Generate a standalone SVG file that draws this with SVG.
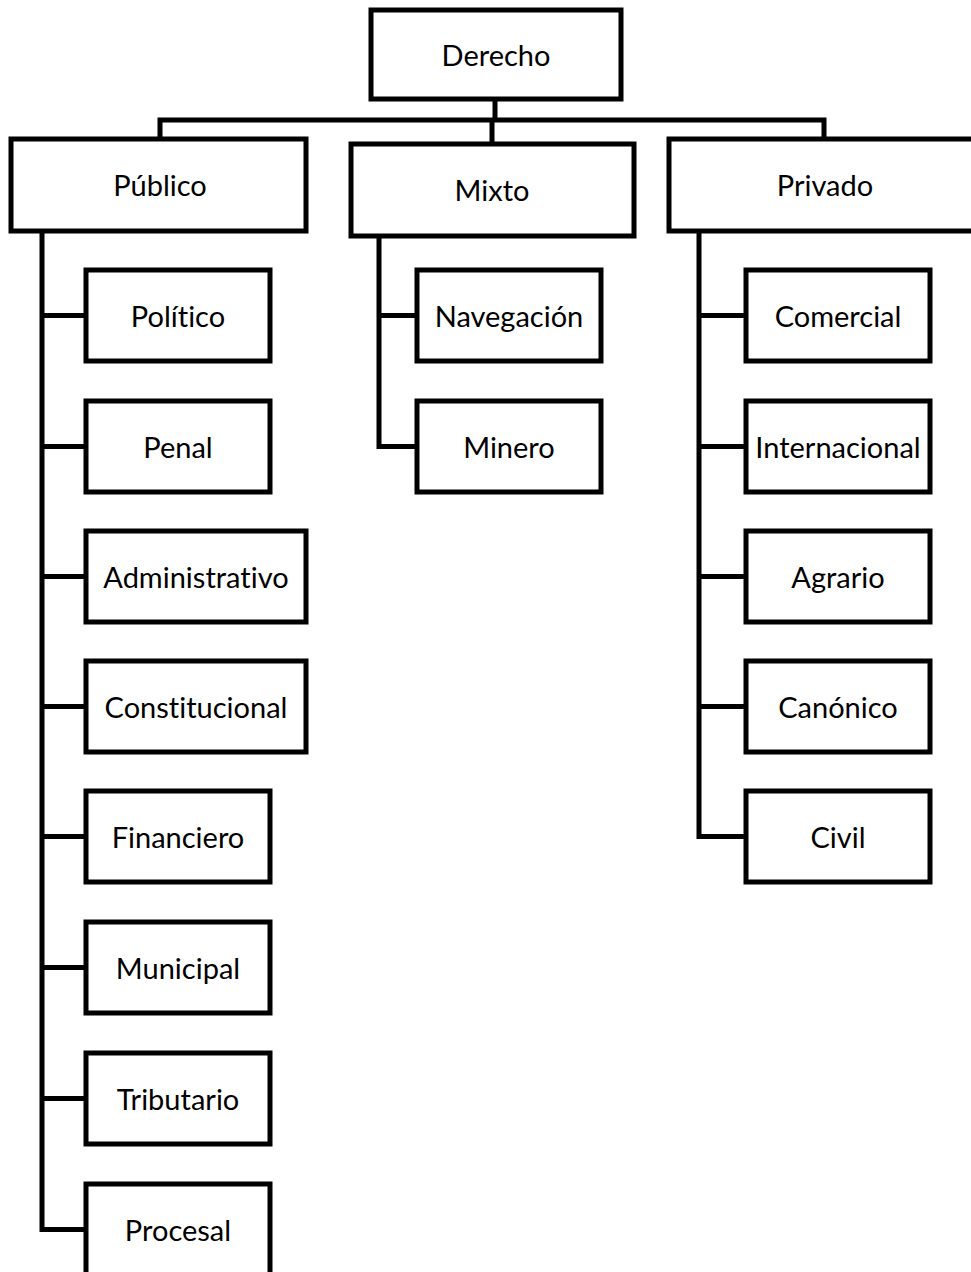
<svg xmlns="http://www.w3.org/2000/svg" width="971" height="1272" viewBox="0 0 971 1272">
  <style>
    .box { fill: #ffffff; stroke: #000000; stroke-width: 5; }
    .lbl { font-family: Lato, "Open Sans", sans-serif; font-size: 29px; fill: #000000; text-anchor: middle; dominant-baseline: central; font-variant-ligatures: none; }
    .wire { fill: none; stroke: #000000; stroke-width: 5; stroke-linecap: square; stroke-linejoin: miter; }
  </style>
  <rect width="971" height="1272" fill="#ffffff"/>

  <!-- tree connectors -->
  <g id="connectors">
    <path class="wire" d="M495 100 V120 M160 138 V120 H824 V138 M492 120 V143"/>
    <!-- Público branch -->
    <path class="wire" d="M42 232 V1229.5 H85 M42 315.5 H85 M42 446.5 H85 M42 576.5 H85 M42 706.5 H85 M42 836.5 H85 M42 967.5 H85 M42 1098.5 H85"/>
    <!-- Mixto branch -->
    <path class="wire" d="M379 237 V446.5 H416 M379 315.5 H416"/>
    <!-- Privado branch -->
    <path class="wire" d="M699 232 V836.5 H745 M699 315.5 H745 M699 446.5 H745 M699 576.5 H745 M699 706.5 H745"/>
  </g>

  <g id="derecho"><rect class="box" x="371" y="10" width="250" height="89"/><text class="lbl" x="496" y="54">Derecho</text></g>

  <g id="publico"><rect class="box" x="11" y="139" width="295" height="92"/><text class="lbl" x="160" y="184">Público</text></g>
  <g id="mixto"><rect class="box" x="351" y="144" width="283" height="92"/><text class="lbl" x="492" y="189">Mixto</text></g>
  <g id="privado"><rect class="box" x="669" y="139" width="320" height="92"/><text class="lbl" x="825" y="184">Privado</text></g>

  <g id="politico"><rect class="box" x="86" y="270" width="184" height="91"/><text class="lbl" x="178" y="315">Político</text></g>
  <g id="penal"><rect class="box" x="86" y="401" width="184" height="91"/><text class="lbl" x="178" y="446">Penal</text></g>
  <g id="administrativo"><rect class="box" x="86" y="531" width="220" height="91"/><text class="lbl" x="196" y="576">Administrativo</text></g>
  <g id="constitucional"><rect class="box" x="86" y="661" width="220" height="91"/><text class="lbl" x="196" y="706">Constitucional</text></g>
  <g id="financiero"><rect class="box" x="86" y="791" width="184" height="91"/><text class="lbl" x="178" y="836">Financiero</text></g>
  <g id="municipal"><rect class="box" x="86" y="922" width="184" height="91"/><text class="lbl" x="178" y="967">Municipal</text></g>
  <g id="tributario"><rect class="box" x="86" y="1053" width="184" height="91"/><text class="lbl" x="178" y="1098">Tributario</text></g>
  <g id="procesal"><rect class="box" x="86" y="1184" width="184" height="91"/><text class="lbl" x="178" y="1229">Procesal</text></g>

  <g id="navegacion"><rect class="box" x="417" y="270" width="184" height="91"/><text class="lbl" x="509" y="315">Navegación</text></g>
  <g id="minero"><rect class="box" x="417" y="401" width="184" height="91"/><text class="lbl" x="509" y="446">Minero</text></g>

  <g id="comercial"><rect class="box" x="746" y="270" width="184" height="91"/><text class="lbl" x="838" y="315">Comercial</text></g>
  <g id="internacional"><rect class="box" x="746" y="401" width="184" height="91"/><text class="lbl" x="838" y="446">Internacional</text></g>
  <g id="agrario"><rect class="box" x="746" y="531" width="184" height="91"/><text class="lbl" x="838" y="576">Agrario</text></g>
  <g id="canonico"><rect class="box" x="746" y="661" width="184" height="91"/><text class="lbl" x="838" y="706">Canónico</text></g>
  <g id="civil"><rect class="box" x="746" y="791" width="184" height="91"/><text class="lbl" x="838" y="836">Civil</text></g>
</svg>
